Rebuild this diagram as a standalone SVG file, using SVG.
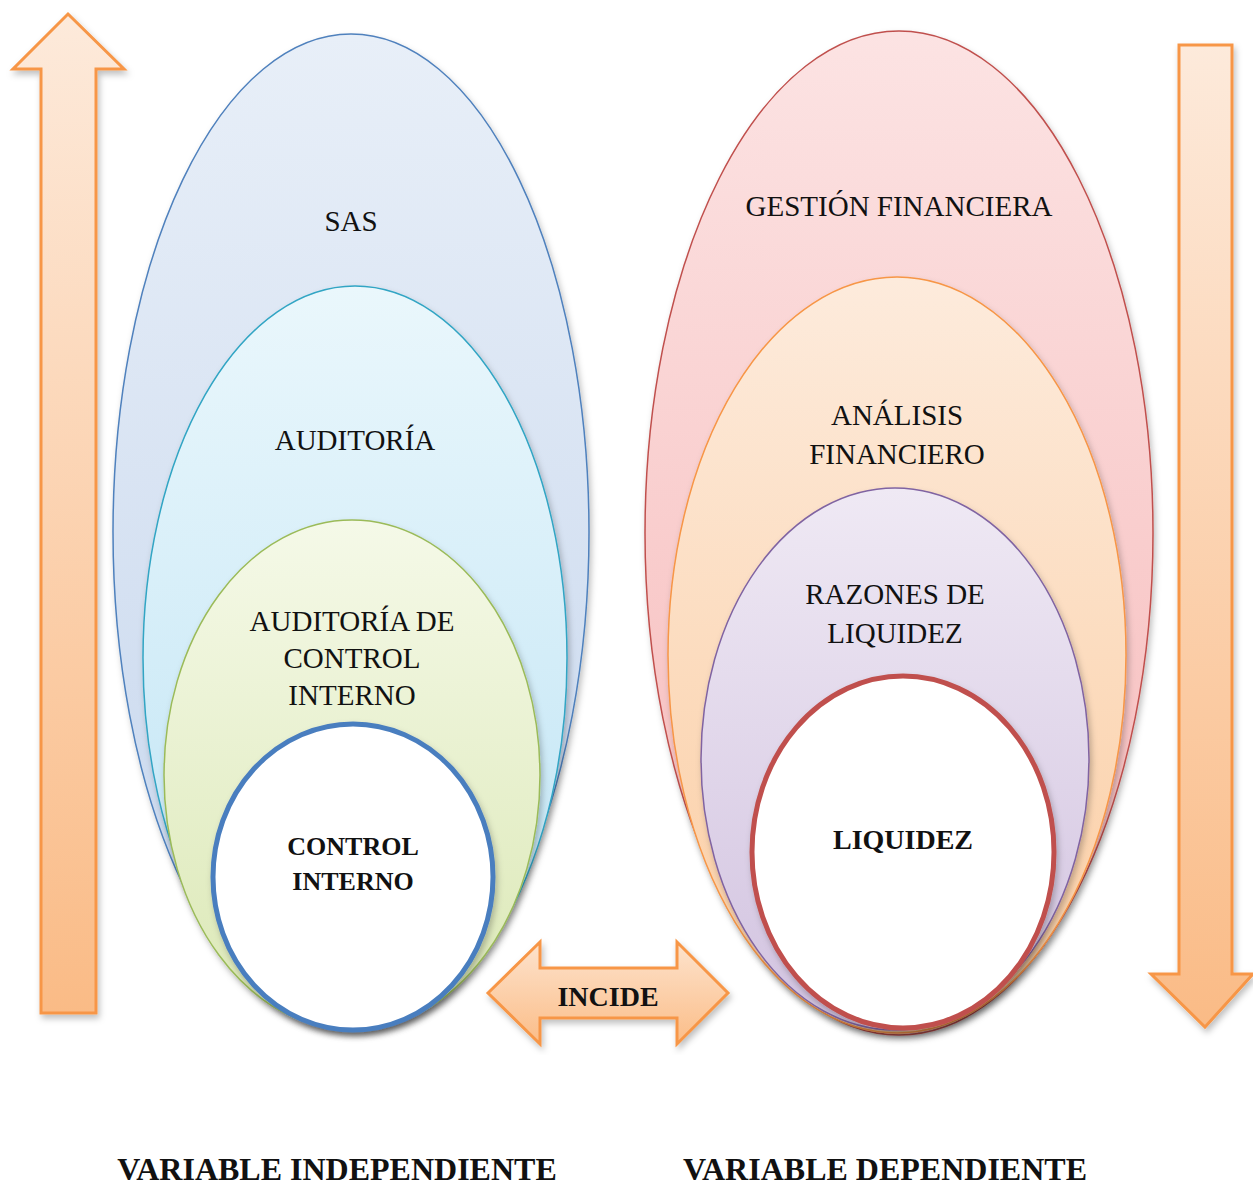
<svg xmlns="http://www.w3.org/2000/svg" width="1253" height="1185" viewBox="0 0 1253 1185">
<style>
.t{font-family:"Liberation Serif","Times New Roman",serif;font-size:29px;fill:#111;text-anchor:middle}
.b{font-weight:bold}
.arrow{stroke:#f79646;stroke-width:3;stroke-linejoin:miter}
</style>
<defs>
<linearGradient id="gArrow" x1="0" y1="0" x2="0" y2="1"><stop offset="0" stop-color="#fdeadb"/><stop offset="1" stop-color="#fabb86"/></linearGradient>
<linearGradient id="gArrowH" x1="0" y1="0" x2="0" y2="1"><stop offset="0" stop-color="#fde3cd"/><stop offset="1" stop-color="#fbbd88"/></linearGradient>
<linearGradient id="gSas" x1="0" y1="0" x2="0" y2="1"><stop offset="0" stop-color="#e8eff8"/><stop offset="1" stop-color="#c6d6ed"/></linearGradient>
<linearGradient id="gAud" x1="0" y1="0" x2="0" y2="1"><stop offset="0" stop-color="#eaf7fc"/><stop offset="1" stop-color="#bde3f4"/></linearGradient>
<linearGradient id="gAci" x1="0" y1="0" x2="0" y2="1"><stop offset="0" stop-color="#f5f9e8"/><stop offset="1" stop-color="#dbe8b5"/></linearGradient>
<linearGradient id="gGes" x1="0" y1="0" x2="0" y2="1"><stop offset="0" stop-color="#fce3e3"/><stop offset="1" stop-color="#f6b8b8"/></linearGradient>
<linearGradient id="gAna" x1="0" y1="0" x2="0" y2="1"><stop offset="0" stop-color="#fdebdc"/><stop offset="1" stop-color="#fbcda2"/></linearGradient>
<linearGradient id="gRaz" x1="0" y1="0" x2="0" y2="1"><stop offset="0" stop-color="#efe9f4"/><stop offset="1" stop-color="#d2c3e0"/></linearGradient>
<filter id="sh" x="-10%" y="-10%" width="120%" height="120%"><feDropShadow dx="2" dy="4" stdDeviation="3" flood-color="#000" flood-opacity="0.25"/></filter>
</defs>

<g id="arrow-up">
<polygon class="arrow" fill="url(#gArrow)" filter="url(#sh)" points="68,14 124,69 96,69 96,1013 41,1013 41,69 13,69"/>
</g>
<g id="arrow-down">
<polygon class="arrow" fill="url(#gArrow)" filter="url(#sh)" points="1179,45 1232,45 1232,974 1253,974 1205,1027 1151,974 1179,974"/>
</g>

<g id="node-sas">
<ellipse cx="351" cy="532" rx="238" ry="498" fill="url(#gSas)" stroke="#4f81bd" stroke-width="1.5" filter="url(#sh)"/>
<text class="t" x="351" y="231">SAS</text>
</g>
<g id="node-auditoria">
<ellipse cx="355" cy="658" rx="212" ry="372" fill="url(#gAud)" stroke="#31a5c4" stroke-width="1.5" filter="url(#sh)"/>
<text class="t" x="355" y="450">AUDITORÍA</text>
</g>
<g id="node-auditoria-ci">
<ellipse cx="352" cy="775" rx="188" ry="255" fill="url(#gAci)" stroke="#9bbb59" stroke-width="1.5" filter="url(#sh)"/>
<text class="t" x="352" y="631">AUDITORÍA DE</text>
<text class="t" x="352" y="668">CONTROL</text>
<text class="t" x="352" y="705">INTERNO</text>
</g>
<g id="node-control-interno">
<ellipse cx="353" cy="877" rx="140" ry="153" fill="#fff" stroke="#4a7ebf" stroke-width="5" filter="url(#sh)"/>
<text class="t b" x="353" y="855" style="font-size:26px">CONTROL</text>
<text class="t b" x="353" y="890" style="font-size:26px">INTERNO</text>
</g>

<g id="node-gestion">
<ellipse cx="899" cy="533" rx="254" ry="502" fill="url(#gGes)" stroke="#c0504d" stroke-width="1.5" filter="url(#sh)"/>
<text class="t" x="899" y="216">GESTIÓN FINANCIERA</text>
</g>
<g id="node-analisis">
<ellipse cx="897" cy="655" rx="229" ry="378" fill="url(#gAna)" stroke="#f79646" stroke-width="1.5" filter="url(#sh)"/>
<text class="t" x="897" y="425">ANÁLISIS</text>
<text class="t" x="897" y="464">FINANCIERO</text>
</g>
<g id="node-razones">
<ellipse cx="895" cy="759" rx="194" ry="271" fill="url(#gRaz)" stroke="#8064a2" stroke-width="1.5" filter="url(#sh)"/>
<text class="t" x="895" y="604">RAZONES DE</text>
<text class="t" x="895" y="643">LIQUIDEZ</text>
</g>
<g id="node-liquidez">
<ellipse cx="903" cy="852" rx="151" ry="176" fill="#fff" stroke="#c0504d" stroke-width="5" filter="url(#sh)"/>
<text class="t b" x="903" y="849" style="font-size:28px">LIQUIDEZ</text>
</g>

<g id="connectors">
<g id="incide">
<polygon class="arrow" fill="url(#gArrowH)" filter="url(#sh)" points="488,993 540,942 540,968 677,968 677,942 728,993 677,1044 677,1018 540,1018 540,1044"/>
<text class="t b" x="608" y="1006" style="font-size:28px">INCIDE</text>
</g>
</g>

<text class="t b" x="337" y="1180" style="font-size:32px">VARIABLE INDEPENDIENTE</text>
<text class="t b" x="885" y="1180" style="font-size:32px">VARIABLE DEPENDIENTE</text>
</svg>
